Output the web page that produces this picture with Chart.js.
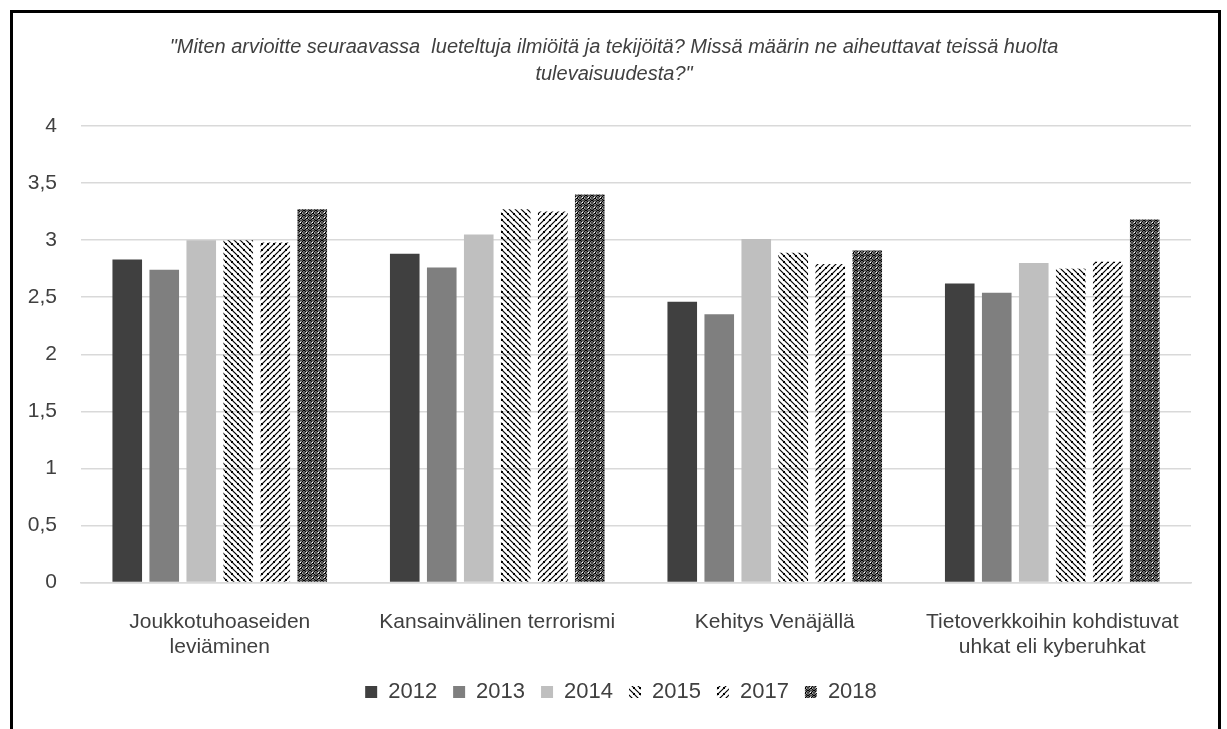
<!DOCTYPE html>
<html>
<head>
<meta charset="utf-8">
<script src="https://cdn.jsdelivr.net/npm/chart.js@4/dist/chart.umd.min.js"></script>
<style>
  html,body{margin:0;padding:0;background:#fff;}
  #frame{position:absolute;left:10px;top:10px;width:1205px;height:719px;
    border-left:3px solid #000;border-top:3px solid #000;border-right:3px solid #000;}
  #wrap{position:relative;width:1205px;height:716px;}
</style>
</head>
<body>
<div id="frame"><div id="wrap"><canvas id="chart"></canvas></div></div>
<script>
// DATA
const categories=[["Joukkotuhoaseiden","leviäminen"],"Kansainvälinen terrorismi","Kehitys Venäjällä",["Tietoverkkoihin kohdistuvat","uhkat eli kyberuhkat"]];
const years=["2012","2013","2014","2015","2017","2018"];
const v2012=[2.83,2.88,2.46,2.62];
const v2013=[2.74,2.76,2.35,2.54];
const v2014=[3.00,3.05,3.01,2.80];
const v2015=[3.00,3.27,2.89,2.75];
const v2017=[2.98,3.25,2.79,2.81];
const v2018=[3.27,3.40,2.91,3.18];
const titleLines=['"Miten arvioitte seuraavassa  lueteltuja ilmiöitä ja tekijöitä? Missä määrin ne aiheuttavat teissä huolta','tulevaisuudesta?"'];

// PATTERNS (transparent background, like the original fills)
function tile(w,h,draw){
  const c=document.createElement("canvas");
  c.width=w;c.height=h;
  const g=c.getContext("2d");
  g.strokeStyle="#000";g.fillStyle="#000";
  draw(g,w,h);
  return document.createElement("canvas").getContext("2d").createPattern(c,"repeat");
}
const pat2015=tile(6,6,(g,w,h)=>{
  g.lineWidth=1.2;
  g.beginPath();g.moveTo(-1,-1);g.lineTo(w+1,h+1);g.stroke();
  g.beginPath();g.moveTo(-1,h-1);g.lineTo(1,h+1);g.stroke();
  g.beginPath();g.moveTo(w-1,-1);g.lineTo(w+1,1);g.stroke();
  g.fillRect(2,2,2,2);
});
const pat2017=tile(6,6,(g,w,h)=>{
  g.lineWidth=1.2;
  g.beginPath();g.moveTo(-1,h+1);g.lineTo(w+1,-1);g.stroke();
  g.beginPath();g.moveTo(-1,1);g.lineTo(1,-1);g.stroke();
  g.beginPath();g.moveTo(w-1,h+1);g.lineTo(w+1,h-1);g.stroke();
  g.fillRect(2,2,2,2);
});
const pat2018=tile(6,5,(g,w,h)=>{
  g.lineWidth=1.3;
  g.beginPath();g.ellipse(3,2.5,2.1,1.7,0,0,Math.PI*2);g.stroke();
  g.fillRect(0,0,1,1);g.fillRect(0,4,1,1);g.fillRect(5,0,1,1);
  g.fillRect(2,2,2,1);
});

const colors=["#404040","#7f7f7f","#bfbfbf",pat2015,pat2017,pat2018];
const series=[v2012,v2013,v2014,v2015,v2017,v2018];
const fam="Liberation Sans";

// nudge title and legend to where the original centres them
const nudge={
  id:"nudge",
  afterLayout(chart){
    const t=chart.titleBlock,l=chart.legend;
    if(t){t.left+=12;t.right+=12;}
    if(l){l.left+=19;l.right+=19;}
  }
};

new Chart(document.getElementById("chart"),{
  type:"bar",
  data:{
    labels:categories,
    datasets:years.map((y,i)=>({
      label:y,data:series[i],backgroundColor:colors[i],borderWidth:0
    }))
  },
  plugins:[nudge],
  options:{
    responsive:true,maintainAspectRatio:false,animation:false,
    layout:{padding:{left:0,right:27,top:0,bottom:16}},
    datasets:{bar:{categoryPercentage:0.8,barPercentage:0.8}},
    plugins:{
      title:{display:true,text:titleLines,color:"#404040",
        font:{family:fam,size:20,style:"italic",weight:"normal",lineHeight:1.35},
        padding:{top:21,bottom:38}},
      legend:{position:"bottom",
        labels:{color:"#404040",font:{family:fam,size:22},
          boxWidth:12,boxHeight:12,padding:16}},
      tooltip:{enabled:false}
    },
    scales:{
      x:{grid:{display:false},border:{color:"#d9d9d9",width:1.5},
        afterFit:s=>{s.height-=14;},
        ticks:{color:"#404040",font:{family:fam,size:21,lineHeight:1.2},padding:19,maxRotation:0}},
      y:{min:0,max:4,
        afterFit:s=>{s.width=68;},
        grid:{color:"#d9d9d9",lineWidth:1.5,drawTicks:false},
        border:{display:false},
        ticks:{stepSize:0.5,color:"#404040",padding:24,
          font:{family:fam,size:21},
          callback:v=>String(v).replace(".",",")}}
    }
  }
});
</script>
</body>
</html>
